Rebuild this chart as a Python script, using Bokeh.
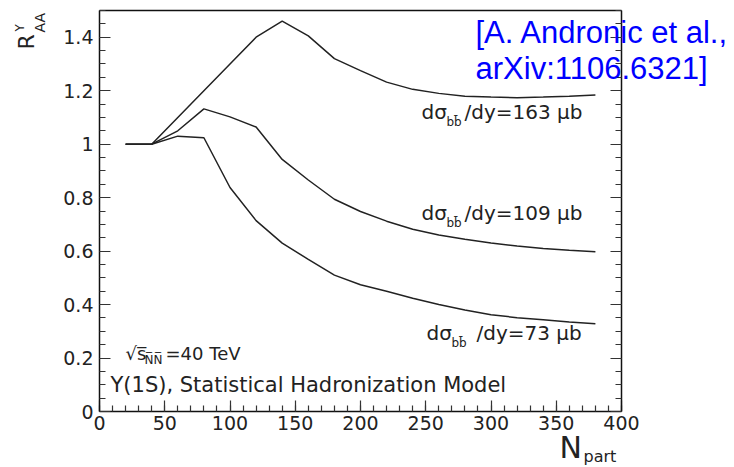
import math
from bokeh.plotting import figure
from bokeh.models import Range1d, FixedTicker, LinearAxis, Label, CustomJSTickFormatter
from bokeh.embed import file_html
from bokeh.resources import INLINE

# ---- data ----
npart = [20, 40, 60, 80, 100, 120, 140, 160, 180, 200, 220, 240, 260, 280, 300, 320, 340, 360, 380]
raa_163 = [1.0, 1.0, 1.10, 1.20, 1.30, 1.40, 1.46, 1.405, 1.32, 1.275, 1.232, 1.205, 1.19, 1.179,
           1.176, 1.174, 1.176, 1.179, 1.184]
raa_109 = [1.0, 1.0, 1.05, 1.132, 1.102, 1.064, 0.943, 0.866, 0.794, 0.748, 0.712, 0.682, 0.66,
           0.644, 0.63, 0.619, 0.61, 0.603, 0.598]
raa_73 = [1.0, 1.0, 1.03, 1.024, 0.838, 0.714, 0.63, 0.569, 0.51, 0.474, 0.45, 0.424, 0.40, 0.38,
          0.362, 0.351, 0.343, 0.335, 0.328]
x_major = [0, 50, 100, 150, 200, 250, 300, 350, 400]
x_minor = list(range(0, 401, 10))
y_major = [0, 0.2, 0.4, 0.6, 0.8, 1.0, 1.2, 1.4]
y_minor = [i * 0.05 for i in range(0, 31)]
x_lo, x_hi = 0, 400
y_lo, y_hi = 0, 1.5

FONT = "DejaVu Sans"
INK = "#222222"

# the canvas is the frame; the inner plot box (0..400, 0..1.5) sits at px 99..621 x 10..411
PX_L, PX_R, PX_T, PX_B = 99, 621, 10, 411
W, H = 734, 467
sx = (PX_R - PX_L) / (x_hi - x_lo)
sy = (PX_B - PX_T) / (y_hi - y_lo)
p = figure(width=W, height=H, output_backend="svg", toolbar_location=None,
           x_range=Range1d(x_lo - PX_L / sx, x_hi + (W - PX_R) / sx),
           y_range=Range1d(y_lo - (H - PX_B) / sy, y_hi + PX_T / sy),
           min_border=0, x_axis_location=None, y_axis_location=None)
p.grid.visible = False
p.outline_line_color = None
p.background_fill_color = "white"
p.border_fill_color = "white"

fmt = CustomJSTickFormatter(code="var s = tick.toFixed(1); return s.endsWith('.0') ? s.slice(0, -2) : s;")

def make_axis(ticks, minor, loc, bounds, labels=True, formatter=None):
    kw = dict(fixed_location=loc, bounds=bounds)
    kw["ticker"] = FixedTicker(ticks=ticks, minor_ticks=minor)
    if formatter is not None:
        kw["formatter"] = formatter
    ax = LinearAxis(**kw)
    ax.axis_line_color = "#111111"
    ax.axis_line_width = 1.5
    ax.major_tick_in = 11
    ax.major_tick_out = 0
    ax.minor_tick_in = 6
    ax.minor_tick_out = 0
    ax.major_tick_line_color = "#333333"
    ax.minor_tick_line_color = "#333333"
    ax.major_tick_line_width = 1.2
    ax.minor_tick_line_width = 1.2
    ax.major_label_text_font = FONT
    ax.major_label_text_font_size = "19px"
    ax.major_label_text_color = INK
    if not labels:
        ax.major_label_text_alpha = 0
        ax.major_label_text_font_size = "1px"
    return ax

xb = make_axis(x_major, x_minor, y_lo, (x_lo, x_hi))
xb.major_label_standoff = 4
p.add_layout(xb, "below")

xt = make_axis([], [], y_hi, (x_lo, x_hi), labels=False)
xt.major_tick_in = 0
xt.minor_tick_in = 0
p.add_layout(xt, "above")

yl = make_axis(y_major, y_minor, x_lo, (y_lo, y_hi), formatter=fmt)
yl.major_label_standoff = 6
p.add_layout(yl, "left")

yr = make_axis(y_major, y_minor, x_hi, (y_lo, y_hi), labels=False)
p.add_layout(yr, "right")

for ys in (raa_163, raa_109, raa_73):
    p.line(npart, ys, line_color=INK, line_width=1.5)

OFF = 0.37  # label baseline correction, in font sizes

def lab(px, py, text, size, font=FONT, color=INK, rotated=False):
    """place a label by its pixel start / baseline position on the canvas"""
    if rotated:
        px = px - OFF * size
    else:
        py = py - OFF * size
    p.add_layout(Label(x=x_lo + (px - PX_L) / sx, y=y_lo + (PX_B - py) / sy, text=text,
                       text_font=font, text_font_size=f"{size}px", text_color=color,
                       angle=math.pi / 2 if rotated else 0.0, text_align="left",
                       text_baseline="alphabetic"))

# curve labels
for (x0, b0, rest, gap) in ((421, 119, "/dy=163 \u03bcb", 43),
                            (421, 220, "/dy=109 \u03bcb", 43),
                            (426, 340, "/dy=73 \u03bcb", 50)):
    lab(x0, b0, "d\u03c3", 20)
    lab(x0 + 25, b0 + 7, "bb\u0304", 12)
    lab(x0 + gap, b0, rest, 20)

# energy and model text
lab(125, 360, "\u221as\u0305", 18)
lab(144, 364, "N\u0305N\u0305", 12)
lab(165, 360, "=40 TeV", 18)
lab(110, 392, "\u03a5(1S), Statistical Hadronization Model", 21)

# reference
lab(475, 43, "[A. Andronic et al.,", 31, font="Liberation Sans", color="#0000ff")
lab(475, 79, "arXiv:1106.6321]", 31, font="Liberation Sans", color="#0000ff")

# axis titles
lab(34, 49, "R", 22, rotated=True)
lab(45, 32, "AA", 14, rotated=True)
lab(24, 31, "\u03a5", 12, rotated=True)
lab(559, 458, "N", 30)
lab(583, 462, "part", 16)

open("out.html", "w").write(file_html(p, INLINE))
